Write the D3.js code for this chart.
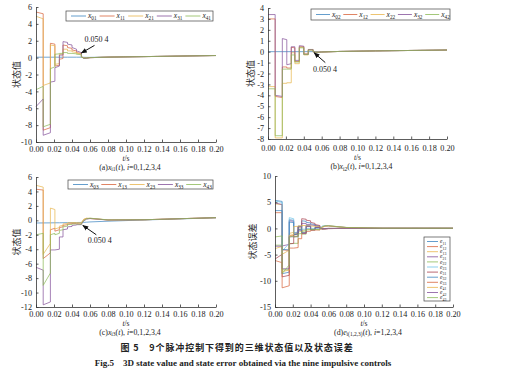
<!DOCTYPE html>
<html><head><meta charset="utf-8">
<script src="https://cdn.jsdelivr.net/npm/d3@7"></script>
<style>
body{margin:0;background:#fff}
svg{display:block}
text{font-family:"Liberation Serif","Times New Roman",serif;fill:#222}
.cjk{font-family:"Noto Sans CJK SC","Noto Sans CJK JP",sans-serif}
</style></head>
<body><svg id="c" width="526" height="370"></svg>
<script>
// shared time grid (impulse instants appear twice: before / after the jump)
const T = [0,0.008,0.008,0.016,0.016,0.021,0.021,0.026,0.026,0.030,0.030,0.035,0.035,0.040,0.040,0.045,0.045,0.0504,0.0504,0.053,0.056,0.06,0.08,0.12,0.2];
const xTicks = [0,0.02,0.04,0.06,0.08,0.10,0.12,0.14,0.16,0.18,0.20];

// (a) x_{i1}
const x01 = [0.05,0.05,0.05,0.05,0.05,0.05,0.05,0.05,0.05,0.05,0.05,0.05,0.05,0.05,0.05,0.05,0.05,0.05,0.05,0.04,0.03,0.03,0.06,0.12,0.25];
const x11 = [5.4,5.2,-8.6,-8.3,1.7,1.6,-1.0,-0.9,-0.2,-0.1,1.5,1.4,1.2,1.1,0.9,0.8,0.6,0.5,0.1,-0.05,-0.06,0.0,0.06,0.12,0.25];
const x21 = [4.9,4.6,-3.3,-3.0,1.5,1.4,-0.8,-0.7,0.4,0.4,1.0,1.0,0.8,0.8,0.7,0.6,0.5,0.45,0.1,-0.03,-0.05,0.0,0.06,0.12,0.25];
const x31 = [-5.8,-4.9,-9.2,-8.9,-2.9,-2.8,-1.2,-1.0,0.3,0.3,1.9,1.8,1.6,1.5,1.2,1.0,0.8,0.6,0.15,-0.1,-0.08,-0.01,0.06,0.12,0.25];
const x41 = [-3.8,-3.4,-8.2,-7.9,-1.3,-1.1,0.4,0.45,0.5,0.5,0.6,0.6,0.5,0.5,0.5,0.45,0.4,0.35,0.05,-0.05,-0.05,0.0,0.06,0.12,0.25];
const namesA = ["01","11","21","31","41"];
const yTicksA = [6,4,2,0,-2,-4,-6,-8,-10];

// (b) x_{i2}
const x02 = [0,0,0,0,0,0,0,0,0,0,0,0,0,0,0,0,0,0,0,0,-0.02,-0.02,0.02,0.07,0.15];
const x12 = [3.0,3.0,-4.1,-4.2,-1.4,-1.4,-1.5,-1.5,0.4,0.35,-0.9,-0.9,0.45,0.45,-0.2,-0.2,0.15,0.15,0.0,-0.05,-0.05,-0.03,0.02,0.07,0.15];
const x22 = [-3.2,-3.2,-7.9,-7.9,-2.9,-2.9,-2.85,-2.85,-0.1,-0.1,-1.1,-1.1,0.4,0.4,-0.3,-0.3,0.2,0.2,0.0,-0.06,-0.05,-0.03,0.02,0.07,0.15];
const x32 = [3.4,3.4,-4.0,-4.1,1.2,1.1,-1.2,-1.1,0.45,0.45,-0.8,-0.8,0.55,0.5,-0.25,-0.25,0.2,0.2,0.0,-0.05,-0.05,-0.03,0.02,0.07,0.15];
const x42 = [-3.4,-3.4,-7.7,-7.7,-1.6,-1.6,-1.6,-1.6,-0.3,-0.3,-0.95,-0.95,0.35,0.35,-0.25,-0.25,0.15,0.15,0.0,-0.05,-0.05,-0.03,0.02,0.07,0.15];
const namesB = ["02","12","22","32","42"];
const yTicksB = [4,3,2,1,0,-1,-2,-3,-4,-5,-6,-7,-8];

// (c) x_{i3}
const x03 = [-0.37,-0.36,-0.36,-0.35,-0.35,-0.34,-0.34,-0.34,-0.34,-0.33,-0.33,-0.32,-0.32,-0.31,-0.31,-0.3,-0.3,-0.29,-0.29,-0.28,-0.26,-0.22,-0.12,0.05,0.35];
const x13 = [4.3,4.2,-5.3,-4.5,-1.3,-1.1,-1.5,-1.3,-1.0,-0.9,-0.7,-0.6,-0.5,-0.45,-0.45,-0.45,-0.45,-0.5,-0.45,0.1,0.25,0.25,0.05,0.08,0.37];
const x23 = [4.85,4.6,-4.7,-3.2,1.7,1.5,-1.2,-1.0,-0.8,-0.7,-0.5,-0.45,-0.35,-0.3,-0.3,-0.3,-0.3,-0.35,-0.3,0.15,0.3,0.28,0.06,0.08,0.37];
const x33 = [-6.5,-6.9,-11.7,-11.3,-4.1,-4.1,-4.1,-4.0,-2.3,-2.3,-1.3,-1.2,-0.9,-0.85,-0.7,-0.65,-0.6,-0.6,-0.55,-0.1,0.15,0.25,0.05,0.08,0.37];
const x43 = [-2.0,-1.8,-9.0,-7.3,-2.0,-1.8,-2.0,-1.8,-1.4,-1.3,-0.9,-0.8,-0.6,-0.55,-0.5,-0.5,-0.5,-0.55,-0.5,0.0,0.2,0.3,0.06,0.08,0.37];
const namesC = ["03","13","23","33","43"];
const yTicksC = [6,4,2,0,-2,-4,-6,-8,-10,-12];

// (d) errors e_{ij}
const e11 = [5.35,5.15,-8.65,-8.35,1.65,1.55,-1.05,-0.95,-0.25,-0.15,1.45,1.35,1.15,1.05,0.85,0.75,0.55,0.45,0.05,-0.09,-0.09,-0.03,0,0,0];
const e12 = [3.0,3.0,-4.1,-4.2,-1.4,-1.4,-1.5,-1.5,0.4,0.35,-0.9,-0.9,0.45,0.45,-0.2,-0.2,0.15,0.15,0,-0.05,-0.03,-0.01,0,0,0];
const e13 = [4.67,4.56,-4.94,-4.15,-0.95,-0.76,-1.16,-0.96,-0.66,-0.57,-0.37,-0.28,-0.18,-0.14,-0.14,-0.15,-0.15,-0.21,-0.16,0.38,0.51,0.47,0.17,0.03,0.02];
const e21 = [4.85,4.55,-3.35,-3.05,1.45,1.35,-0.85,-0.75,0.35,0.35,0.95,0.95,0.75,0.75,0.65,0.55,0.45,0.4,0.05,-0.07,-0.08,-0.03,0,0,0];
const e22 = [-3.2,-3.2,-7.9,-7.9,-2.9,-2.9,-2.85,-2.85,-0.1,-0.1,-1.1,-1.1,0.4,0.4,-0.3,-0.3,0.2,0.2,0,-0.06,-0.03,-0.01,0,0,0];
const e23 = [5.22,4.96,-4.34,-2.85,2.05,1.84,-0.86,-0.66,-0.46,-0.37,-0.17,-0.13,-0.03,0.01,0.01,0,0,-0.06,-0.01,0.43,0.56,0.5,0.18,0.03,0.02];
const e31 = [-5.85,-4.95,-9.25,-8.95,-2.95,-2.85,-1.25,-1.05,0.25,0.25,1.85,1.75,1.55,1.45,1.15,0.95,0.75,0.55,0.1,-0.14,-0.11,-0.04,0,0,0];
const e32 = [3.4,3.4,-4.0,-4.1,1.2,1.1,-1.2,-1.1,0.45,0.45,-0.8,-0.8,0.55,0.5,-0.25,-0.25,0.2,0.2,0,-0.05,-0.03,-0.01,0,0,0];
const e33 = [-6.13,-6.54,-11.34,-10.95,-3.75,-3.76,-3.76,-3.66,-1.96,-1.97,-0.97,-0.88,-0.58,-0.54,-0.39,-0.35,-0.3,-0.31,-0.26,0.18,0.41,0.47,0.17,0.03,0.02];
const e41 = [-3.85,-3.45,-8.25,-7.95,-1.35,-1.15,0.35,0.4,0.45,0.45,0.55,0.55,0.45,0.45,0.45,0.4,0.35,0.3,0,-0.09,-0.08,-0.03,0,0,0];
const e42 = [-3.4,-3.4,-7.7,-7.7,-1.6,-1.6,-1.6,-1.6,-0.3,-0.3,-0.95,-0.95,0.35,0.35,-0.25,-0.25,0.15,0.15,0,-0.05,-0.03,-0.01,0,0,0];
const e43 = [-1.63,-1.44,-8.64,-6.95,-1.65,-1.46,-1.66,-1.46,-1.06,-0.97,-0.57,-0.48,-0.28,-0.24,-0.19,-0.2,-0.2,-0.26,-0.21,0.28,0.46,0.52,0.18,0.03,0.02];
const namesD = ["11","12","13","21","22","23","31","32","33","41","42","43"];
const yTicksD = [10,5,0,-5,-10,-15];

const palette = ["#3d85c0","#d8653c","#e8b54c","#84529a","#8dba58","#6ec3e8","#a8424f"];

const svg = d3.select("#c");
svg.append("defs").append("marker").attr("id","arr").attr("viewBox","0 0 10 10")
  .attr("refX",9).attr("refY",5).attr("markerWidth",6).attr("markerHeight",6).attr("orient","auto")
  .append("path").attr("d","M0,1 L10,5 L0,9 Z").attr("fill","#111");

function subText(sel, parts, size){
  let shifted = false;
  parts.forEach(([t,s])=>{
    const ts = sel.append("tspan").text(t);
    if (s==="i") ts.attr("font-style","italic");
    if (s==="s") { ts.attr("font-size", size*0.7).attr("dy", shifted?0:size*0.25); shifted=true; }
    else if (shifted) { ts.attr("dy", -size*0.25); shifted=false; }
  });
}

function panel(o){
  const x = d3.scaleLinear().domain([0,0.2]).range([o.x0,o.x1]);
  const y = d3.scaleLinear().domain([o.yMin,o.yMax]).range([o.y1,o.y0]);
  const g = svg.append("g");
  const line = d3.line().x((d,i)=>x(T[i])).y(d=>y(d));
  o.series.forEach((s,k)=>{
    g.append("path").attr("d",line(s)).attr("fill","none")
      .attr("stroke",palette[k%7]).attr("stroke-width",0.8).attr("stroke-opacity",0.9);
  });
  const xPad = o.xPad || 4;
  const ax = g.append("g").attr("transform",`translate(0,${o.y1})`)
    .call(d3.axisBottom(x).tickValues(xTicks).tickFormat(d3.format(".2f")).tickSizeInner(-2.5).tickSizeOuter(0).tickPadding(xPad));
  const ay = g.append("g").attr("transform",`translate(${o.x0},0)`)
    .call(d3.axisLeft(y).tickValues(o.yTicks).tickFormat(d=>String(d).replace("\u2212","-")).tickSizeInner(-2.5).tickSizeOuter(0).tickPadding(4));
  [ax,ay].forEach(a=>{
    a.selectAll("path,line").attr("stroke","#333").attr("stroke-width",0.8);
    a.selectAll("text").attr("font-size",8.2).attr("font-family","Liberation Serif").attr("fill","#222");
  });
  const tx = g.append("text").attr("x",(o.x0+o.x1)/2).attr("y",o.y1+14.5+xPad).attr("text-anchor","middle").attr("font-size",7.5);
  subText(tx,[["t","i"],["/s","n"]],7.5);
  g.append("text").attr("class","cjk").attr("transform",`translate(${o.yLabX},${(o.y0+o.y1)/2}) rotate(-90)`)
    .attr("text-anchor","middle").attr("dy","0.35em").attr("font-size",9).text(o.ylabel);
  const cap = g.append("text").attr("x",(o.x0+o.x1)/2+4).attr("y",o.y1+23.5+xPad).attr("text-anchor","middle").attr("font-size",7.8);
  subText(cap,o.caption,7.8);
  const L = o.legend;
  g.append("rect").attr("x",L.x).attr("y",L.y).attr("width",L.w).attr("height",L.h)
    .attr("fill","#fff").attr("stroke","#444").attr("stroke-width",0.7);
  o.names.forEach((n,k)=>{
    const ex = L.vertical ? L.x+3 : L.x+5+k*L.step;
    const ey = L.vertical ? L.y+4.5+k*L.step : L.y+L.h/2;
    g.append("line").attr("x1",ex).attr("x2",ex+L.len).attr("y1",ey).attr("y2",ey)
      .attr("stroke",palette[k%7]).attr("stroke-width",0.8);
    const t = g.append("text").attr("x",ex+L.len+2).attr("y",ey+L.fs*0.3).attr("font-size",L.fs);
    subText(t,[[L.sym,"i"],[n,"s"]],L.fs);
  });
  if (o.ann){
    const A = o.ann;
    g.append("line").attr("x1",x(A.tail[0])).attr("y1",y(A.tail[1])).attr("x2",x(A.tip[0])).attr("y2",y(A.tip[1]))
      .attr("stroke","#111").attr("stroke-width",1).attr("marker-end","url(#arr)");
    g.append("text").attr("x",x(A.text[0])).attr("y",y(A.text[1])).attr("font-size",8).text("0.050 4");
  }
}

panel({x0:36,x1:216,y0:7,y1:142,yMin:-10,yMax:6,yTicks:yTicksA,series:[x01,x11,x21,x31,x41],names:namesA,
  ylabel:"状态值",yLabX:17,
  caption:[["(a)","n"],["x","i"],["i1","s"],["(","n"],["t","i"],["), ","n"],["i","i"],["=0,1,2,3,4","n"]],
  legend:{x:66,y:11,w:147,h:10,step:28.6,len:15,fs:7.5,sym:"x"},
  ann:{tip:[0.0504,0.55],tail:[0.065,1.45],text:[0.054,1.9]}});

panel({x0:268,x1:447,y0:8,y1:139,yMin:-8,yMax:4,yTicks:yTicksB,series:[x02,x12,x22,x32,x42],names:namesB,
  ylabel:"状态值",yLabX:251,xPad:6.5,
  caption:[["(b)","n"],["x","i"],["i2","s"],["(","n"],["t","i"],["), ","n"],["i","i"],["=0,1,2,3,4","n"]],
  legend:{x:311,y:9,w:139,h:11,step:27.3,len:14,fs:7.5,sym:"x"},
  ann:{tip:[0.0515,-0.1],tail:[0.064,-1.0],text:[0.0503,-1.85]}});

panel({x0:36,x1:216,y0:177,y1:307,yMin:-12,yMax:6,yTicks:yTicksC,series:[x03,x13,x23,x33,x43],names:namesC,
  ylabel:"状态值",yLabX:17,
  caption:[["(c)","n"],["x","i"],["i3","s"],["(","n"],["t","i"],["), ","n"],["i","i"],["=0,1,2,3,4","n"]],
  legend:{x:68,y:180,w:145,h:9,step:28.3,len:15,fs:7.5,sym:"x"},
  ann:{tip:[0.052,-0.7],tail:[0.067,-2.0],text:[0.0575,-3.2]}});

panel({x0:275,x1:453,y0:176,y1:307,yMin:-15,yMax:10,yTicks:yTicksD,series:[e11,e12,e13,e21,e22,e23,e31,e32,e33,e41,e42,e43],names:namesD,
  ylabel:"状态误差",yLabX:253,
  caption:[["(d)","n"],["e","i"],["i(1,2,3)","s"],["(","n"],["t","i"],["), ","n"],["i","i"],["=1,2,3,4","n"]],
  legend:{x:424,y:237,w:26,h:64,step:5.1,len:11,fs:5.5,sym:"e",vertical:true}});

svg.append("text").attr("class","cjk").attr("x",237).attr("y",351).attr("text-anchor","middle")
  .attr("font-size",9).attr("font-weight","bold").attr("letter-spacing",0.9).text("图 5　9个脉冲控制下得到的三维状态值以及状态误差");
svg.append("text").attr("x",243).attr("y",366).attr("text-anchor","middle")
  .attr("font-size",9).attr("font-weight","bold").text("Fig.5　3D state value and state error obtained via the nine impulsive controls");
</script></body></html>
